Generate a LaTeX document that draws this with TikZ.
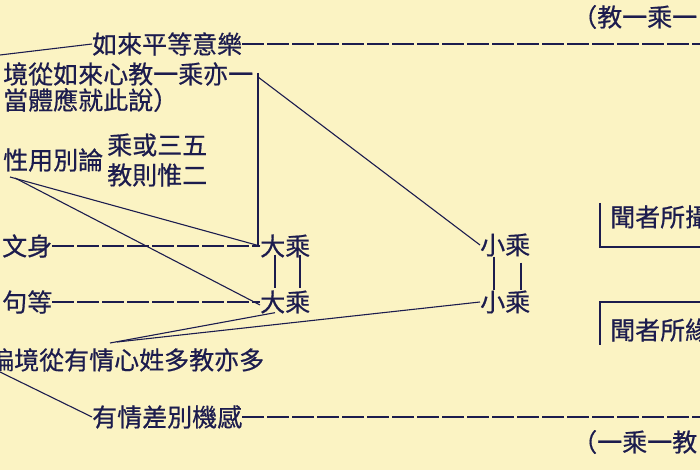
\documentclass[tikz,border=0pt]{standalone}
\usepackage{fontspec}
\newfontfamily\cjk[FakeBold=0.6]{Noto Sans CJK TC}
\definecolor{bg}{HTML}{FBF3C3}
\definecolor{ink}{HTML}{1C1C4E}
\begin{document}
\begin{tikzpicture}[x=1pt,y=-1pt,
 txt/.style={inner sep=0pt,anchor=west,font=\cjk\fontsize{25}{25}\selectfont,text=ink},
 hl/.style={draw=ink,line width=1.4pt,dash pattern=on 22pt off 3pt},
 vl/.style={draw=ink,line width=1.4pt},
 dl/.style={draw=ink,line width=1.1pt}]
\useasboundingbox (0,0) rectangle (700,470);
\clip (0,0) rectangle (700,470);
\fill[bg] (0,0) rectangle (700,470);
% texts
\node[txt] (top) at (572,17) {（教一乘一};
\node[txt] (ru) at (92,44) {如來平等意樂};
\node[txt] (jing) at (3,74) {境從如來心教一乘亦一};
\node[txt] (dang) at (3,100) {當體應就此說）};
\node[txt] (xing) at (3,160) {性用別論};
\node[txt] (cheng) at (107,145) {乘或三五};
\node[txt] (jiao) at (107,175) {教則惟二};
\node[txt] (wen) at (2,246) {文身};
\node[txt] (ju) at (2,302) {句等};
\node[txt] (da1) at (260,246) {大乘};
\node[txt] (da2) at (260,302) {大乘};
\node[txt] (xi1) at (480,245) {小乘};
\node[txt] (xi2) at (480,302) {小乘};
\node[txt] (wenA) at (610,217) {聞者所攝};
\node[txt] (wenB) at (610,330) {聞者所緣};
\node[txt] (bian) at (-11,360) {徧境從有情心姓多教亦多};
\node[txt] (you) at (92,417) {有情差別機感};
\node[txt] (bot) at (572,442) {（一乘一教};
% coordinates
\coordinate (a0) at (0,55);
\coordinate (a1) at (700,44);
\coordinate (k) at (258,73);
\coordinate (kd) at (258,77);
\coordinate (kb) at (258,246);
\coordinate (x1) at (10,177);
\coordinate (x2) at (15,178);
\coordinate (b1) at (110,343);
\coordinate (b2) at (117,342);
\coordinate (c0) at (0,372);
\coordinate (c1) at (700,417);
\coordinate (p1) at (600,203);
\coordinate (p2) at (600,247);
\coordinate (p3) at (700,247);
\coordinate (q1) at (700,302);
\coordinate (q2) at (600,302);
\coordinate (q3) at (600,345);
% connectors
\draw[dl] (a0) -- (ru.west);
\draw[hl] (ru.east) -- (a1);
\draw[vl] (k) -- (kb);
\draw[dl] (kd) -- (xi1.west);
\draw[hl] (wen.east) -- (da1.west);
\draw[hl] (ju.east) -- (da2.west);
\draw[dl] (x1) -- (da1.west);
\draw[dl] (x2) -- ([yshift=-3pt]da2.west);
\draw[vl] ([xshift=15pt,yshift=3pt]da1.south west) -- ([xshift=15pt,yshift=2pt]da2.north west);
\draw[vl] ([xshift=40pt,yshift=3pt]da1.south west) -- ([xshift=40pt,yshift=2pt]da2.north west);
\draw[vl] ([xshift=14pt]xi1.south west) -- ([xshift=14pt]xi2.north west);
\draw[vl] ([xshift=41pt,yshift=-6pt]xi1.south west) -- ([xshift=41pt]xi2.north west);
\draw[dl] ([xshift=15pt,yshift=1pt]da2.south west) -- (b1);
\draw[dl] (xi2.west) -- (b2);
\draw[dl] (c0) -- (you.west);
\draw[hl] (you.east) -- (c1);
\draw[vl] (p1) -- (p2) -- (p3);
\draw[vl] (q1) -- (q2) -- (q3);
\end{tikzpicture}
\end{document}
